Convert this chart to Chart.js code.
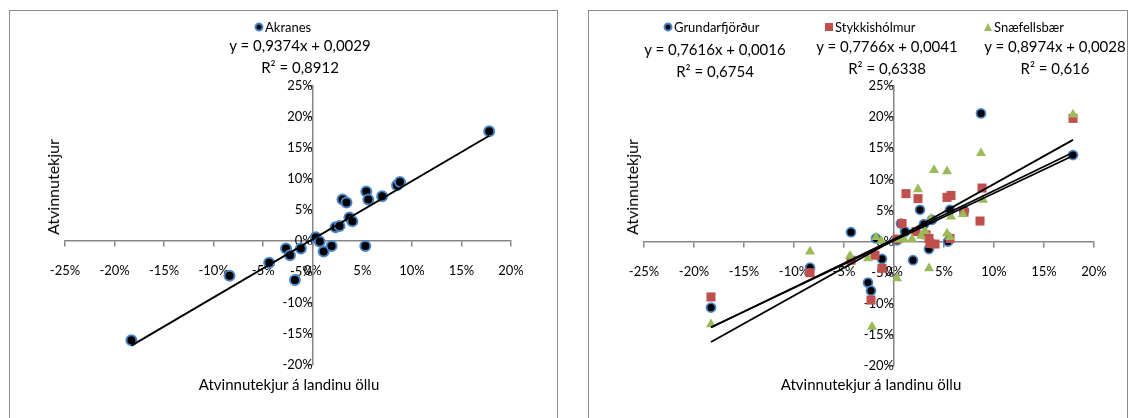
<!DOCTYPE html>
<html>
<head>
<meta charset="utf-8">
<script src="https://cdn.jsdelivr.net/npm/chart.js@4.4.0/dist/chart.umd.min.js"></script>
<style>
  html, body { margin: 0; padding: 0; background: #fff; }
  body { position: relative; width: 1130px; height: 418px; overflow: hidden; font-family: Lato, "Open Sans", sans-serif; color: #000; }
  .box { position: absolute; border: 1px solid #8c8c8c; border-bottom: none; box-sizing: border-box; }
  canvas { position: absolute; top: 0; }
  .t { position: absolute; white-space: nowrap; transform: translate(-50%, -50%); line-height: 1; }
  .tl { position: absolute; white-space: nowrap; transform: translate(0, -50%); line-height: 1; }
  .mk { position: absolute; transform: translate(-50%, -50%); box-sizing: border-box; }
</style>
</head>
<body>
<div class="box" style="left:9px;top:10px;width:549px;height:420px"></div>
<div class="box" style="left:588px;top:10px;width:540px;height:420px"></div>
<canvas id="c1" width="565" height="418" style="left:0"></canvas>
<canvas id="c2" width="565" height="418" style="left:565px"></canvas>
<div id="overlay"></div>
<script>
// ---------- data (percent) ----------
const xTicksMin = -25, xTicksMax = 20, yTicksMin = -20, yTicksMax = 25, tickStep = 5;
const axisTitleX = "Atvinnutekjur á landinu öllu";
const axisTitleY = "Atvinnutekjur";

// Left chart: Akranes
const akrName = "Akranes";
const akrX = [-18.3,-8.4,-4.4,-2.7,-2.3,-1.8,-1.2,0.3,0.7,1.1,1.9,2.3,2.7,3.0,3.4,3.7,4.0,5.3,5.4,5.6,7.0,8.5,8.8,17.8];
const akrY = [-16.0,-5.6,-3.5,-1.2,-2.3,-6.3,-1.2,0.6,-0.1,-1.7,-0.8,2.2,2.4,6.7,6.2,3.8,3.2,-0.8,8.0,6.7,7.2,9.0,9.5,17.7];

// Right chart
const seriesNames = ["Grundarfjörður", "Stykkishólmur", "Snæfellsbær"];
const grX = [-18.3,-8.4,-4.3,-2.6,-2.3,-1.8,-1.2,0.3,0.7,1.1,1.9,2.6,3.0,3.5,3.8,5.4,5.6,7.0,8.7,17.9];
const grY = [-10.6,-4.2,1.5,-6.6,-7.9,0.5,-2.8,0.2,2.9,1.6,-3.0,5.1,2.8,-1.2,3.5,0.0,5.1,5.0,20.6,13.9];
const stX = [-18.3,-8.4,-4.3,-2.3,-1.9,-1.2,0.3,0.8,1.2,2.2,2.4,3.2,3.5,3.6,4.1,5.3,5.6,5.7,7.0,8.6,8.8,17.9];
const stY = [-8.9,-5.0,-3.0,-9.4,-2.2,-4.3,0.4,2.9,7.7,1.6,6.9,1.1,0.5,-0.3,-0.4,7.1,0.5,7.4,4.7,3.3,8.6,19.8];
const snX = [-18.3,-8.4,-4.4,-2.6,-2.2,-1.8,-1.3,0.3,0.5,1.0,1.8,2.4,2.7,3.1,3.5,3.7,4.0,5.3,5.3,5.6,5.7,6.9,8.7,8.9,17.9];
const snY = [-13.3,-1.6,-2.3,-2.7,-13.7,0.7,0.1,-5.9,0.3,0.4,0.4,8.4,0.9,1.7,-4.3,3.7,11.5,11.3,1.3,0.7,4.0,4.4,14.2,6.7,20.4];

// Trendline equations (as shown)
const akrSlope = 0.9374, akrIntercept = 0.0029, akrR2 = 0.8912;
const slopes = [0.7616, 0.7766, 0.8974];
const intercepts = [0.0016, 0.0041, 0.0028];
const r2s = [0.6754, 0.6338, 0.616];

// ---------- helpers ----------
const pts = (xs, ys) => xs.map((x, i) => ({ x, y: ys[i] }));
const trend = (xs, m, b) => {
  const lo = Math.min(...xs), hi = Math.max(...xs);
  return [{ x: lo, y: m * lo + b * 100 }, { x: hi, y: m * hi + b * 100 }];
};
const fmt = v => String(v).replace('.', ',');
const eqText = (m, b) => `y = ${fmt(m)}x + ${fmt(b)}`;
const r2Text = r => `R² = ${fmt(r)}`;

const BLUE = '#4a86c8', RED = '#C0504D', GREEN = '#9BBB59', AXIS = '#868686';
const FONT = 'Lato';

function scalesCfg(yPad) {
  return {
    x: {
      type: 'linear', min: xTicksMin, max: xTicksMax, position: { y: 0 },
      ticks: { stepSize: tickStep, autoSkip: false, maxRotation: 0, padding: 17, color: '#000',
               font: { family: FONT, size: 13 }, callback: v => v + '%' },
      grid: { drawOnChartArea: false, drawTicks: true, tickLength: 5, color: AXIS, lineWidth: 1.5 },
      border: { display: true, color: AXIS, width: 1.5 },
      afterFit: s => { s.height = 0; }
    },
    y: {
      type: 'linear', min: yTicksMin, max: yTicksMax, position: { x: 0 },
      ticks: { stepSize: tickStep, autoSkip: false, padding: yPad, color: '#000',
               font: { family: FONT, size: 13 }, callback: v => v + '%' },
      grid: { drawOnChartArea: false, drawTicks: true, tickLength: 5, color: AXIS, lineWidth: 1.5 },
      border: { display: true, color: AXIS, width: 1.5 },
      afterFit: s => { s.width = 0; }
    }
  };
}
const baseOpts = (padding, yPad) => ({
  responsive: false, animation: false, devicePixelRatio: 1,
  layout: { padding },
  plugins: { legend: { display: false }, tooltip: { enabled: false } },
  scales: scalesCfg(yPad)
});
const lineDs = (data, order, w) => ({ type: 'line', data, borderColor: '#000', borderWidth: w, pointRadius: 0, fill: false, order, clip: false });

new Chart(document.getElementById('c1'), {
  type: 'scatter',
  data: { datasets: [
    lineDs(trend(akrX, akrSlope, akrIntercept), 0, 2),
    { label: akrName, data: pts(akrX, akrY), pointStyle: 'circle', pointRadius: 5, borderWidth: 2,
      backgroundColor: '#000', borderColor: BLUE, order: 5, clip: false }
  ] },
  options: baseOpts({ left: 65, right: 54, top: 86, bottom: 53 }, 15)
});

const symbolStyles = [
  { pointStyle: 'circle', pointRadius: 4.5, borderWidth: 1.75, backgroundColor: '#000', borderColor: BLUE },
  { pointStyle: 'rect', pointRadius: 6.4, borderWidth: 0, backgroundColor: RED, borderColor: RED },
  { pointStyle: 'triangle', pointRadius: 5.8, borderWidth: 0, backgroundColor: GREEN, borderColor: GREEN }
];
const rX = [grX, stX, snX], rY = [grY, stY, snY];
const ds2 = [];
rX.forEach((xs, i) => ds2.push(lineDs(trend(xs, slopes[i], intercepts[i]), i, 1.75)));
rX.forEach((xs, i) => ds2.push(Object.assign({ label: seriesNames[i], data: pts(xs, rY[i]), order: 10 - i, clip: false }, symbolStyles[i])));
new Chart(document.getElementById('c2'), {
  type: 'scatter',
  data: { datasets: ds2 },
  options: baseOpts({ left: 79, right: 36, top: 86, bottom: 52 }, 14)
});

// ---------- text overlays ----------
const ov = document.getElementById('overlay');
function txt(cls, x, y, s, size, extra) {
  const d = document.createElement('div');
  d.className = cls; d.textContent = s;
  d.style.left = x + 'px'; d.style.top = y + 'px'; d.style.fontSize = size + 'px';
  if (extra) Object.assign(d.style, extra);
  ov.appendChild(d); return d;
}
function marker(kind, x, y) {
  const d = document.createElement('div');
  d.className = 'mk';
  d.style.left = x + 'px'; d.style.top = y + 'px';
  if (kind === 0) Object.assign(d.style, { width: '9px', height: '9px', borderRadius: '50%', background: '#000', border: '2px solid ' + BLUE });
  else if (kind === 1) Object.assign(d.style, { width: '8px', height: '8px', background: RED });
  else Object.assign(d.style, { width: '0', height: '0', borderLeft: '4.5px solid transparent', borderRight: '4.5px solid transparent', borderBottom: '8px solid ' + GREEN });
  ov.appendChild(d);
}
// left chart
marker(0, 259, 27); txt('tl', 265, 27, akrName, 13);
txt('t', 300, 45, eqText(akrSlope, akrIntercept), 15);
txt('t', 300, 67, r2Text(akrR2), 15);
txt('t', 53, 187, axisTitleY, 16, { transform: 'translate(-50%,-50%) rotate(-90deg)' });
txt('t', 289, 384, axisTitleX, 15);
// right chart
const legX = [668, 829, 988];
const eqCx = [715, 887, 1055];
const eqCy = [49, 46, 46];
seriesNames.forEach((n, i) => {
  marker(i, legX[i], 27); txt('tl', legX[i] + 6, 27, n, 13);
  txt('t', eqCx[i], eqCy[i], eqText(slopes[i], intercepts[i]), 15);
  txt('t', eqCx[i], eqCy[i] + 22, r2Text(r2s[i]), 15);
});
txt('t', 632, 187, axisTitleY, 16, { transform: 'translate(-50%,-50%) rotate(-90deg)' });
txt('t', 871, 384, axisTitleX, 15);
</script>
</body>
</html>
